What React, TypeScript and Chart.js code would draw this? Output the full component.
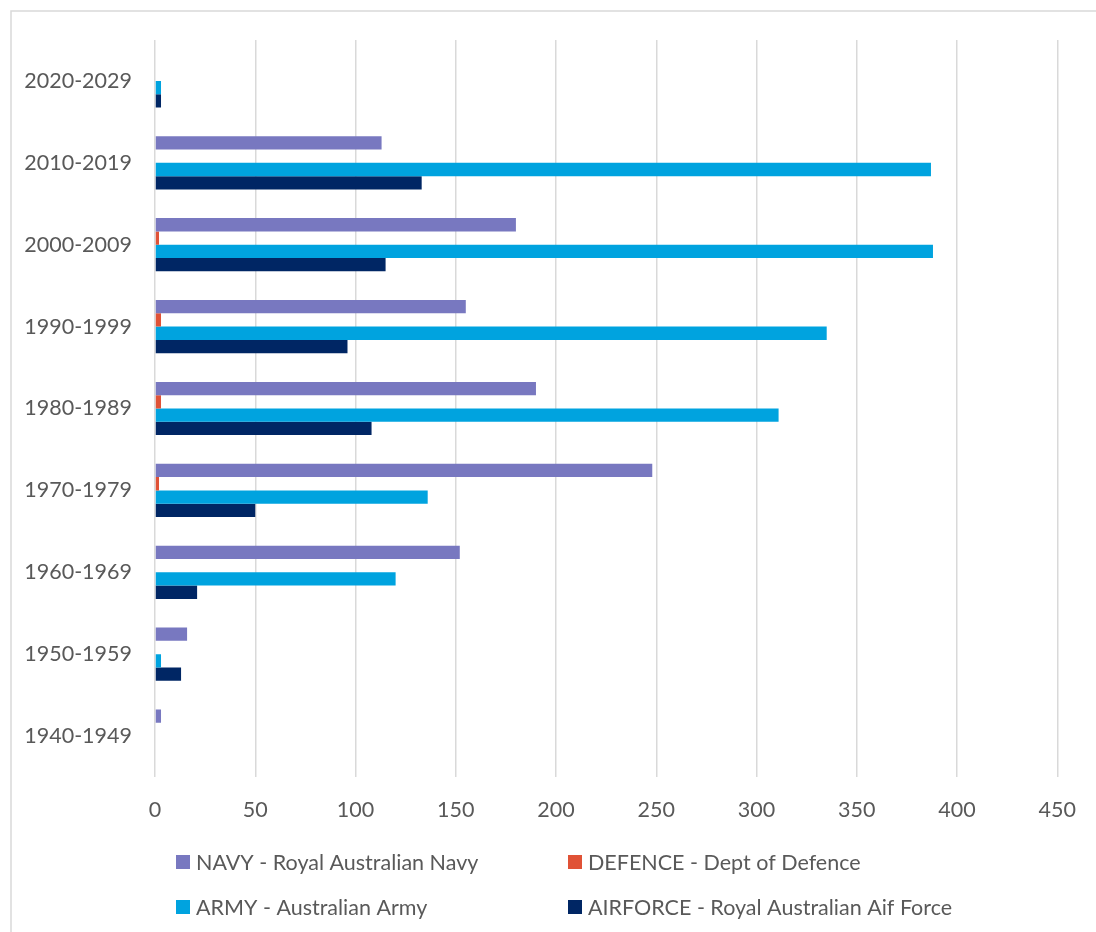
import React, { useEffect, useRef } from "react";
import { Chart, registerables } from "chart.js";

Chart.register(...registerables);

// Categories listed top-to-bottom as shown in the chart
const decades = [
  "2020-2029",
  "2010-2019",
  "2000-2009",
  "1990-1999",
  "1980-1989",
  "1970-1979",
  "1960-1969",
  "1950-1959",
  "1940-1949",
];

const navy = [0, 113, 180, 155, 190, 248, 152, 16, 3];
const defence = [0, 0, 2, 3, 3, 2, 0, 0, 0];
const army = [3, 387, 388, 335, 311, 136, 120, 3, 0];
const airforce = [3, 133, 115, 96, 108, 50, 21, 13, 0];

const seriesNames = [
  "NAVY - Royal Australian Navy",
  "DEFENCE - Dept of Defence",
  "ARMY - Australian Army",
  "AIRFORCE - Royal Australian Aif Force",
];
const seriesColors = ["#7878C0", "#E05236", "#00A3DF", "#002664"];

const xMin = 0;
const xMax = 450;
const xStep = 50;

const FONT = "Lato, 'Open Sans', sans-serif";
const TEXT = "#595959";

const framePlugin = {
  id: "frame",
  beforeDraw(chart: any) {
    const ctx = chart.ctx;
    ctx.save();
    ctx.fillStyle = "#ffffff";
    ctx.fillRect(0, 0, chart.width, chart.height);
    ctx.strokeStyle = "#d9d9d9";
    ctx.lineWidth = 1.5;
    ctx.strokeRect(11, 11, chart.width + 50, chart.height + 50);
    ctx.restore();
  },
};

const legendPlugin = {
  id: "customLegend",
  afterDraw(chart: any) {
    const ctx = chart.ctx;
    const area = chart.chartArea;
    const cols = [area.left + 21, area.left + 413];
    const rows = [area.bottom + 85, area.bottom + 130];
    ctx.save();
    ctx.font = `21.5px ${FONT}`;
    ctx.textBaseline = "middle";
    ctx.textAlign = "left";
    chart.data.datasets.forEach((ds: any, i: number) => {
      const x = cols[i % 2];
      const y = rows[Math.floor(i / 2)];
      ctx.fillStyle = ds.backgroundColor;
      ctx.fillRect(x, y - 7, 14, 14);
      ctx.fillStyle = TEXT;
      ctx.fillText(ds.label, x + 20, y + 1);
    });
    ctx.restore();
  },
};

export default function App() {
  const canvasRef = useRef<HTMLCanvasElement | null>(null);

  useEffect(() => {
    if (!canvasRef.current) return;
    const seriesData = [navy, defence, army, airforce];
    const chart = new Chart(canvasRef.current, {
      type: "bar",
      data: {
        labels: decades,
        datasets: seriesData.map((d, i) => ({
          label: seriesNames[i],
          data: d,
          backgroundColor: seriesColors[i],
          borderWidth: 0,
          barPercentage: 1,
          categoryPercentage: 0.65,
        })),
      },
      options: {
        indexAxis: "y",
        responsive: false,
        animation: false,
        maintainAspectRatio: false,
        layout: { padding: { left: 0, top: 40, right: 35, bottom: 105 } },
        plugins: {
          legend: { display: false },
          tooltip: { enabled: false },
        },
        scales: {
          x: {
            min: xMin,
            max: xMax,
            ticks: {
              stepSize: xStep,
              color: TEXT,
              font: { family: FONT, size: 21.5 },
              padding: 20,
            },
            grid: { color: "#d9d9d9", lineWidth: 1.5, drawTicks: false },
            border: { display: false },
            afterFit(scale: any) {
              scale.height = 50;
            },
          },
          y: {
            ticks: {
              color: TEXT,
              font: { family: FONT, size: 21.5 },
              padding: 23,
            },
            grid: { display: false, drawTicks: false },
            border: { display: false },
            afterFit(scale: any) {
              scale.width = 155;
            },
          },
        },
      },
      plugins: [framePlugin, legendPlugin],
    } as any);
    return () => chart.destroy();
  }, []);

  return (
    <div style={{ position: "absolute", left: 0, top: 0, width: 1096, height: 932 }}>
      <canvas ref={canvasRef} width={1096} height={932} style={{ width: 1096, height: 932 }} />
    </div>
  );
}
